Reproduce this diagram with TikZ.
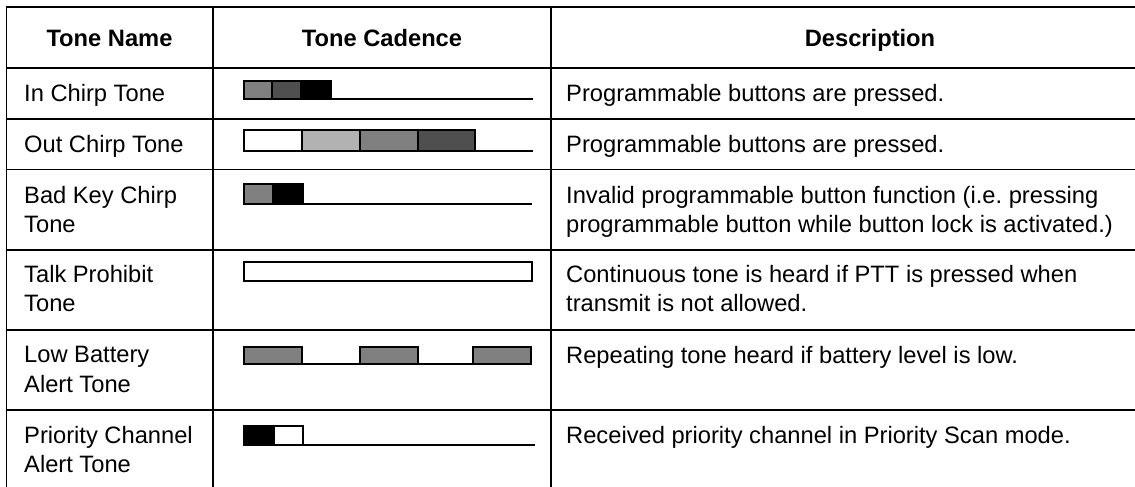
\documentclass[tikz,border=0pt]{standalone}
\usepackage{fontspec}
\setmainfont{Liberation Sans}
\frenchspacing

\definecolor{toneLight}{gray}{0.70}
\definecolor{toneMid}{gray}{0.50}
\definecolor{toneDark}{gray}{0.31}

\tikzset{
  rule/.style={line width=1.7pt},
  seg/.style={draw=black, line width=1.5pt},
  baseline rule/.style={line width=2.8pt},
  headtext/.style={anchor=base, inner sep=0pt, font=\fontsize{23.7}{29.5}\selectfont\bfseries},
  celltext/.style={anchor=north west, inner sep=0pt, align=left, font=\fontsize{23.7}{29.5}\selectfont},
}

\begin{document}
\begin{tikzpicture}[x=1pt, y=-1pt]
  \useasboundingbox (0,0) rectangle (1135,487);

  % table rules, cut at the page edge
  \begin{scope}
    \clip (0,0) rectangle (1135,487);
    \foreach \ry in {7,68,119,169.5,250,330,410}
      \draw[rule] (5.65,\ry) -- (1200,\ry);
    \foreach \rx in {6.5,213,551}
      \draw[rule] (\rx,7) -- (\rx,520);
  \end{scope}

  % header
  \node[headtext] (hName) at (109.5,46.5) {Tone Name};
  \node[headtext] (hCad)  at (382,46.5)   {Tone Cadence};
  \node[headtext] (hDesc) at (870,46.5)   {Description};

  % tone names
  \node[celltext] (nIn)   at (24,84)  {In Chirp Tone};
  \node[celltext] (nOut)  at (24,135) {Out Chirp Tone};
  \node[celltext] (nBad)  at (24,186) {Bad Key Chirp\\Tone};
  \node[celltext] (nTalk) at (24,265) {Talk Prohibit\\Tone};
  \node[celltext] (nLow)  at (24,346) {Low Battery\\Alert Tone};
  \node[celltext] (nPri)  at (24,426) {Priority Channel\\Alert Tone};

  % descriptions
  \node[celltext] (dIn)   at (566,84)  {Programmable buttons are pressed.};
  \node[celltext] (dOut)  at (566,135) {Programmable buttons are pressed.};
  \node[celltext] (dBad)  at (566,186) {Invalid programmable button function (i.e. pressing\\programmable button while button lock is activated.)};
  \node[celltext] (dTalk) at (566,265) {Continuous tone is heard if PTT is pressed when\\transmit is not allowed.};
  \node[celltext] (dLow)  at (566,346) {Repeating tone heard if battery level is low.};
  \node[celltext] (dPri)  at (566,426) {Received priority channel in Priority Scan mode.};

  % in chirp
  \filldraw[seg, fill=toneMid]  (244,81) rectangle (272,99);
  \filldraw[seg, fill=toneDark] (272,81) rectangle (301,99);
  \filldraw[seg, fill=black]    (301,81) rectangle (331,99);
  \draw[baseline rule] (243.3,99) -- (533,99);

  % out chirp
  \filldraw[seg, fill=white]     (244,130) rectangle (302,151);
  \filldraw[seg, fill=toneLight] (302,130) rectangle (360,151);
  \filldraw[seg, fill=toneMid]   (360,130) rectangle (418,151);
  \filldraw[seg, fill=toneDark]  (418,130) rectangle (475,151);
  \draw[baseline rule] (243.3,151) -- (533,151);

  % bad key chirp
  \filldraw[seg, fill=toneMid] (244,184) rectangle (273,204);
  \filldraw[seg, fill=black]   (273,184) rectangle (303,204);
  \draw[baseline rule] (243.3,204) -- (532,204);

  % talk prohibit
  \filldraw[seg, fill=white] (244,262) rectangle (532,281);
  \draw[baseline rule] (243.3,281) -- (532.7,281);

  % low battery alert
  \foreach \gx in {244,360,473}
    \filldraw[seg, fill=toneMid] (\gx,347) rectangle ({\gx+58},364);
  \draw[baseline rule] (243.3,364) -- (532,364);

  % priority channel alert
  \filldraw[seg, fill=black] (244,426) rectangle (274,445);
  \filldraw[seg, fill=white] (274,426) rectangle (303,445);
  \draw[baseline rule] (243.3,445) -- (535,445);
\end{tikzpicture}
\end{document}
